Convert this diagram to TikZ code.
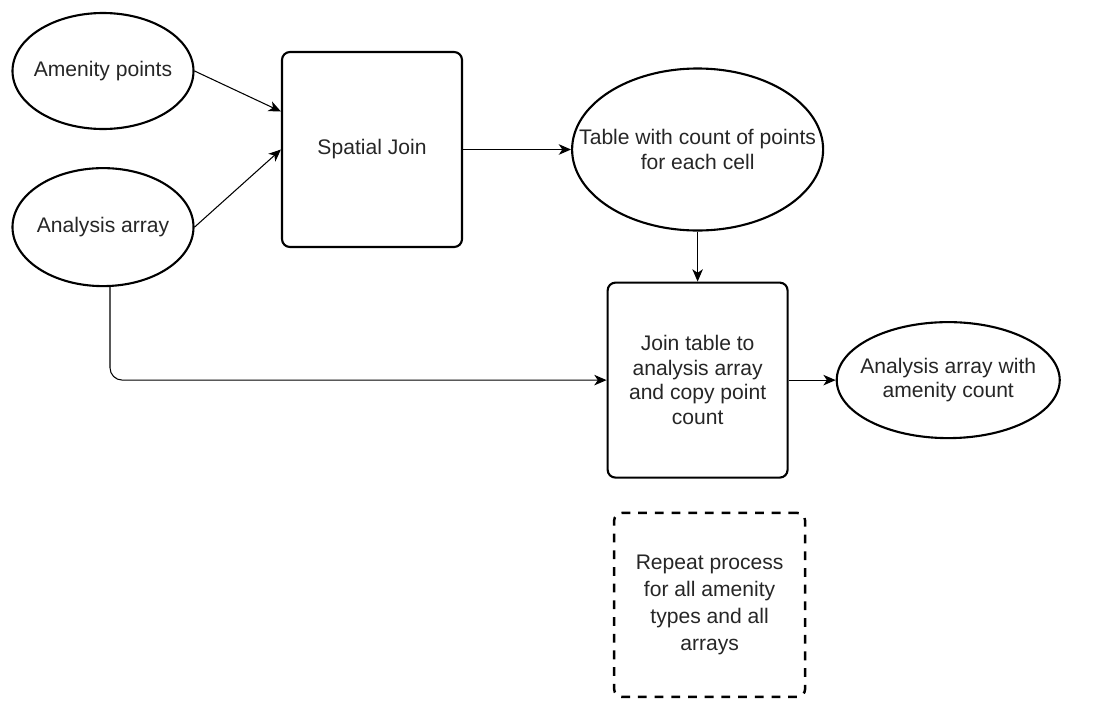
\documentclass[tikz,border=0pt]{standalone}
\usepackage{fontspec}
\setmainfont{Liberation Sans}
\usetikzlibrary{arrows.meta, shapes.geometric, positioning}

\begin{document}
\begin{tikzpicture}[>={Stealth[length=7pt,width=6pt,inset=2pt]}, node distance=1cm,
  every node/.style={font=\fontsize{12}{14}\selectfont, text=black!85, align=center},
  data/.style={ellipse, draw, line width=1.2pt, inner xsep=-1cm, inner ysep=0pt},
  proc/.style={rectangle, draw, line width=1.2pt, rounded corners=4.5pt, minimum width=3.6cm, minimum height=3.9cm},
  note/.style={proc, dash pattern=on 5pt off 4.5pt, line width=1.4pt, minimum width=3.82cm, minimum height=3.68cm},
  flow/.style={->, line width=0.6pt}]
\useasboundingbox (0,0) rectangle (22.12,-14.14);
\node[data, minimum width=3.62cm, minimum height=2.32cm] (amen) at (2.06,-1.42) {Amenity points};
\node[data, minimum width=3.62cm, minimum height=2.36cm, below=0.74cm of amen] (arr) {Analysis array};
\node[proc] (sjoin) at (7.44,-2.99) {Spatial Join};
\node[data, minimum width=5.02cm, minimum height=3.24cm, right=2.16cm of sjoin] (tbl) {Table with count of points\\for each cell};
\node[proc, below=1.0cm of tbl] (jtbl) {Join table to\\analysis array\\and copy point\\count};
\node[data, minimum width=4.46cm, minimum height=2.32cm, right=0.94cm of jtbl] (res) {Analysis array with\\amenity count};
\node[note, below=0.66cm of jtbl, xshift=0.24cm, font=\fontsize{12}{15.5}\selectfont] (rep) {Repeat process\\for all amenity\\types and all\\arrays};
% connectors
\draw[flow] (amen.east) -- ([yshift=0.76cm]sjoin.west);
\draw[flow] (arr.east) -- (sjoin.west);
\draw[flow] (sjoin.east) -- (sjoin.east -| tbl.west);
\draw[flow] (tbl.south) -- (tbl.south |- jtbl.north);
\draw[flow, rounded corners=7pt] ([xshift=0.14cm]arr.south) |- (jtbl.west);
\draw[flow] (jtbl.east) -- (res.west);
\end{tikzpicture}
\end{document}
